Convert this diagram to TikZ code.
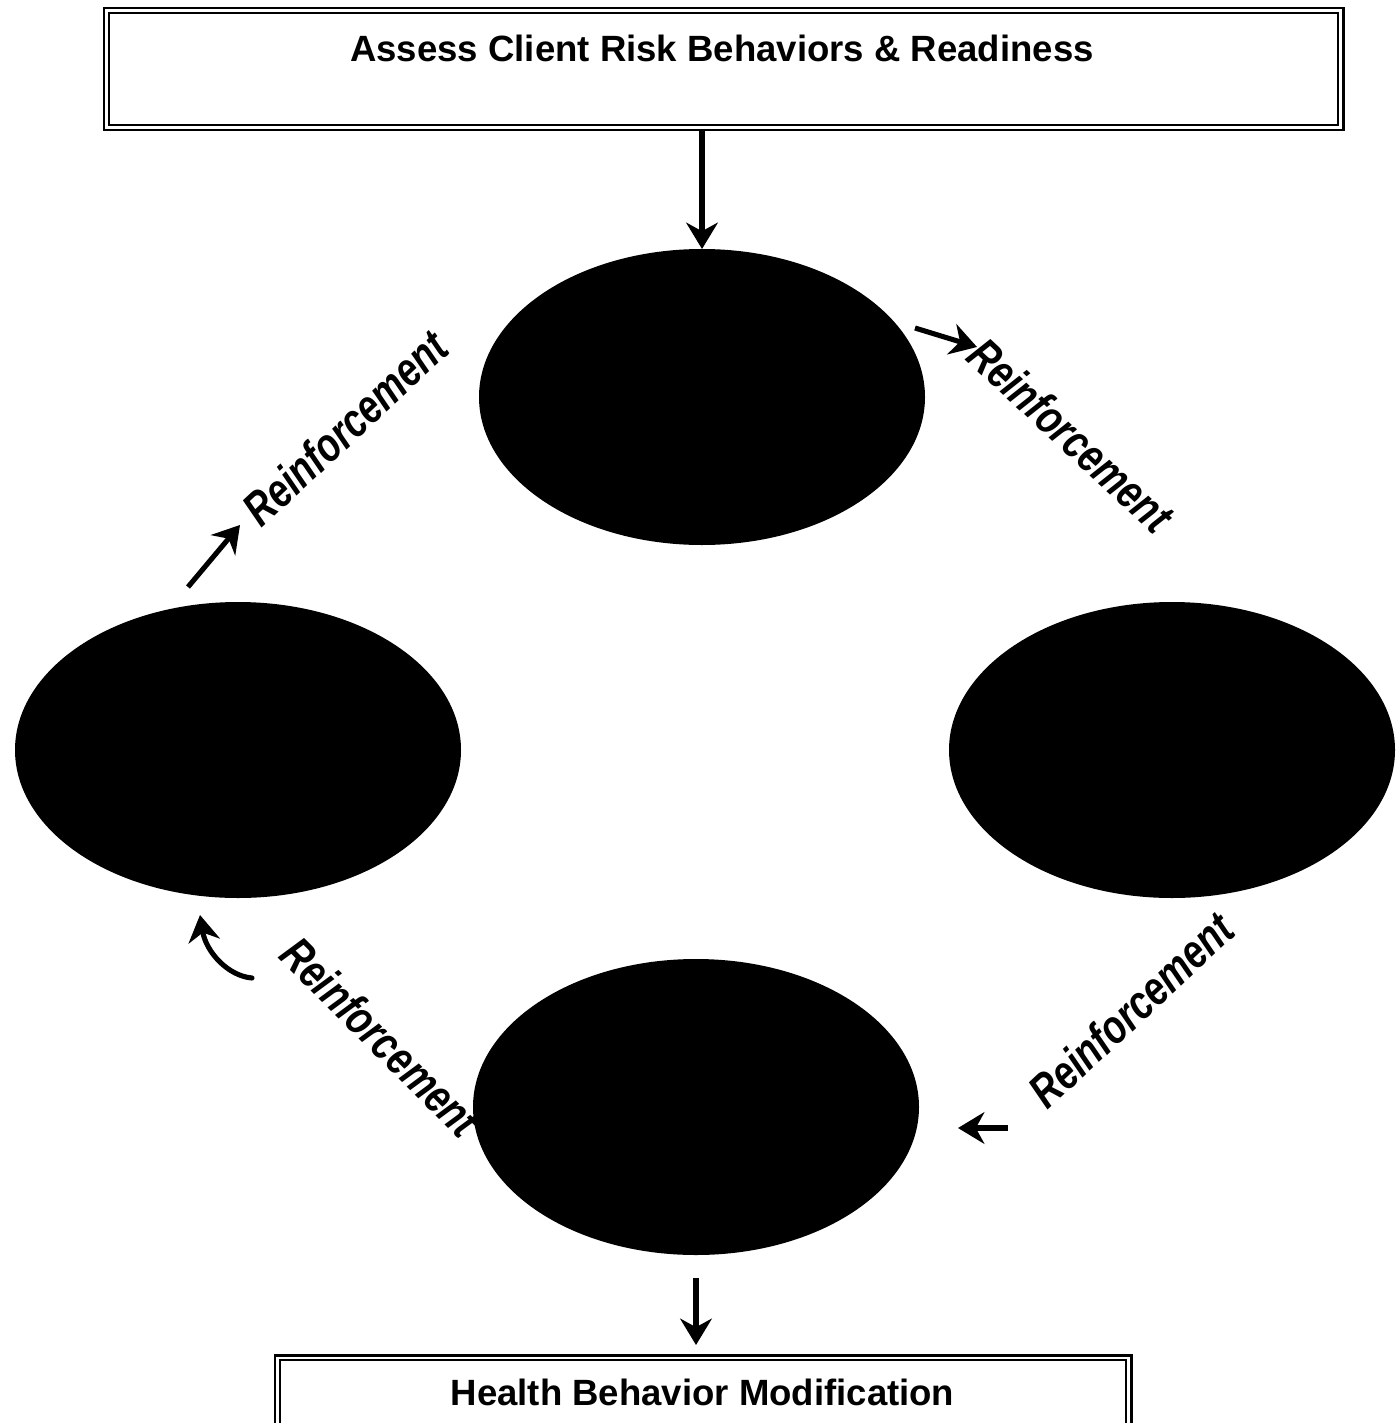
\documentclass[tikz,border=0pt]{standalone}
\usepackage{fontspec}
\setmainfont{Liberation Sans}
\usetikzlibrary{arrows.meta, shapes.geometric}

\begin{document}
\begin{tikzpicture}[
  stageoval/.style={ellipse, fill=black, minimum width=4.46cm, minimum height=2.96cm, inner sep=0pt, outer sep=0pt},
  framebox/.style={draw, line width=0.85pt, inner sep=0pt, outer sep=0pt},
  boxtext/.style={font=\fontsize{10.4}{12}\selectfont\bfseries},
  reinf/.style={font=\fontsize{13.5}{16}\selectfont\bfseries\itshape, inner sep=0pt},
  flow/.style={line width=1.45pt, -{Stealth[length=7.5pt, width=9pt]}}]
  \useasboundingbox (0,0) rectangle (13.97,-14.23);
  % boxes at top and bottom
  \node[framebox, minimum width=12.39cm, minimum height=1.22cm] (assess) at (7.235,-0.69) {};
  \draw[line width=0.35pt] ([shift={(0.05,-0.05)}]assess.north west) rectangle ([shift={(-0.05,0.05)}]assess.south east);
  \node[boxtext] (assesstext) at (7.22,-0.48) {Assess Client Risk Behaviors \& Readiness};
  \node[framebox, minimum width=8.56cm, minimum height=0.76cm] (modify) at (7.03,-13.93) {};
  \draw[line width=0.35pt] ([shift={(0.05,-0.05)}]modify.north west) rectangle ([shift={(-0.05,0.05)}]modify.south east);
  \node[boxtext] (modifytext) at (7.025,-13.92) {Health Behavior Modification};
  % labels round the cycle
  \node[reinf, rotate=43] (reinftl) at (3.45,-4.28) {\scalebox{0.78}[1]{Reinforcement}};
  \node[reinf, rotate=-43] (reinftr) at (10.71,-4.35) {\scalebox{0.78}[1]{Reinforcement}};
  \node[reinf, rotate=-45] (reinfbl) at (3.81,-10.37) {\scalebox{0.78}[1]{Reinforcement}};
  \node[reinf, rotate=43] (reinfbr) at (11.31,-10.10) {\scalebox{0.78}[1]{Reinforcement}};
  % the four stages
  \node[stageoval] (stagetop) at (7.02,-3.97) {};
  \node[stageoval] (stageleft) at (2.38,-7.50) {};
  \node[stageoval] (stageright) at (11.72,-7.50) {};
  \node[stageoval] (stagebottom) at (6.96,-11.07) {};
  % arrows
  \draw[flow] (stagetop.north |- assess.south) -- (stagetop.north);
  \draw[flow, shorten <=0.23cm, shorten >=0.1cm] (stagebottom.south) -- (stagebottom.south |- modify.north);
  \coordinate (trtail) at (9.15,-3.28); \coordinate (trtip) at (9.77,-3.47);
  \coordinate (tltail) at (1.88,-5.87); \coordinate (tltip) at (2.40,-5.25);
  \coordinate (brtail) at (10.08,-11.28); \coordinate (brtip) at (9.58,-11.28);
  \coordinate (bltail) at (2.52,-9.78); \coordinate (bltip) at (2.00,-9.15);
  \draw[flow] (trtail) -- (trtip);
  \draw[flow] (tltail) -- (tltip);
  \draw[flow] (brtail) -- (brtip);
  \draw[flow, line cap=round] (bltail) .. controls (2.28,-9.76) and (2.06,-9.52) .. (bltip);
\end{tikzpicture}
\end{document}
